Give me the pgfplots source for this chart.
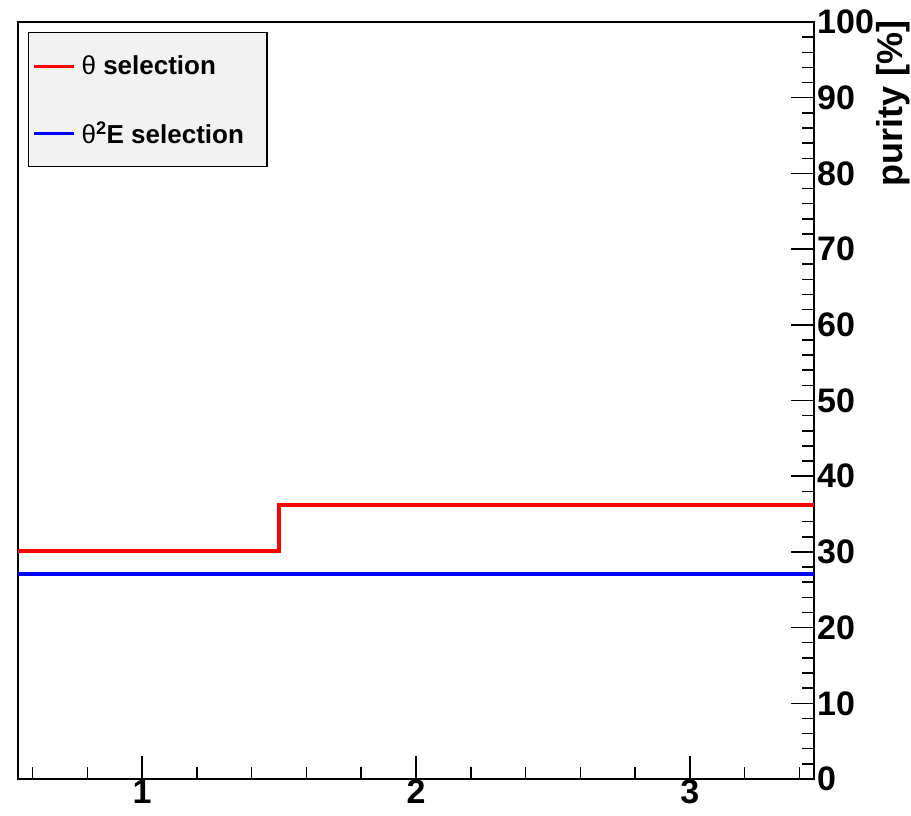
\documentclass[border=0pt]{standalone}
\usepackage{pgfplots}
\pgfplotsset{compat=1.18}
\usepackage{fontspec}
\setmainfont{Liberation Sans}
\begin{document}
\begin{tikzpicture}
\path[use as bounding box] (-18pt,-36pt) rectangle (893pt,779pt);
\begin{axis}[
  at={(0pt,0pt)}, anchor=south west,
  width=796pt, height=757pt, scale only axis,
  xmin=0.547, xmax=3.453, ymin=0, ymax=100,
  xtick={1,2,3},
  minor xtick={0.6,0.8,1.2,1.4,1.6,1.8,2.2,2.4,2.6,2.8,3.2,3.4},
  ytick={0,10,...,100},
  minor ytick={2,4,6,8,12,14,16,18,22,24,26,28,32,34,36,38,42,44,46,48,52,54,56,58,62,64,66,68,72,74,76,78,82,84,86,88,92,94,96,98},
  xtick pos=bottom, ytick pos=right, yticklabel pos=right,
  tick align=inside,
  major tick length=23pt, minor tick length=12pt,
  every tick/.style={black, line width=1.5pt},
  axis line style={line width=1.5pt},
  /pgf/number format/assume math mode=true,
  tick label style={font=\fontsize{34}{40}\selectfont\bfseries},
  xticklabel style={inner sep=1pt},
  yticklabel style={inner sep=3pt},
  legend style={at={(0,1)}, anchor=north west, xshift=10pt, yshift=-10pt,
    fill=black!5, draw=black, line width=1.2pt, inner xsep=4pt, inner ysep=0pt,
    row sep=0pt, font=\fontsize{26}{30}\selectfont\bfseries,
    nodes={inner xsep=6pt, inner ysep=0pt, minimum height=67pt}},
  legend cell align=left,
  legend image code/.code={\draw[#1, line width=3pt] (0pt,0pt) -- (40pt,0pt);},
]
\addplot[red, line width=3.8pt, const plot] coordinates {(0.5,30.1) (1.5,36.2) (2.5,36.2) (3.5,36.2)};
\addlegendentry{{\mdseries θ} selection}
\addplot[blue, line width=3.8pt, const plot] coordinates {(0.5,27.1) (1.5,27.1) (2.5,27.1) (3.5,27.1)};
\addlegendentry{{\mdseries θ}\textsuperscript{2}E selection\rule{13pt}{0pt}}
\end{axis}
\node[rotate=90, anchor=south east, inner sep=0pt, font=\fontsize{36}{40}\selectfont\bfseries] at (892pt,759pt) {purity [\%]};
\end{tikzpicture}
\end{document}
